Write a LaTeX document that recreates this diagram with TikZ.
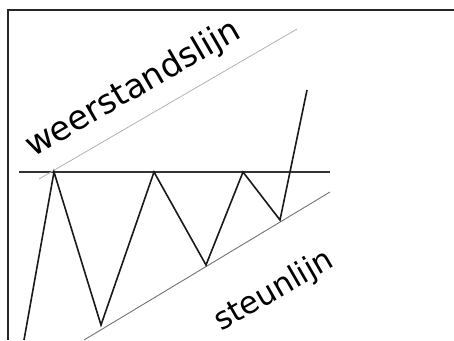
\documentclass[tikz,border=0pt]{standalone}
\usepackage{fontspec}
\setmainfont{DejaVu Sans}
\usetikzlibrary{positioning}

\begin{document}
\begin{tikzpicture}[x=1pt,y=-1pt,
    koers/.style={line width=1.6pt, black!90, line join=miter},
    trendlijn/.style={line width=0.9pt, black!55},
    lijntekst/.style={rotate=30, anchor=base west, inner sep=0pt}]
  \useasboundingbox (0,0) rectangle (454,340);
  % Frame
  \draw[line width=2pt, black!85] (8,340) -- (8,10) -- (454,10);
  % Resistance level
  \coordinate (hl) at (19,172);
  \coordinate (hr) at (330,172);
  \draw[line width=1.5pt, black!80] (hl) -- (hr);
  % Trend lines
  \coordinate (w1) at (39,179);
  \coordinate (w2) at (297,29);
  \draw[trendlijn, black!30, line width=0.8pt] (w1) -- (w2);
  \coordinate (s1) at (84,340);
  \coordinate (s2) at (330,192);
  \draw[trendlijn] (s1) -- (s2);
  % Price zigzag
  \coordinate (p0) at (24,340);
  \coordinate (p1) at (54,172);
  \coordinate (p2) at (101,325);
  \coordinate (p3) at (154,172);
  \coordinate (p4) at (206,265);
  \coordinate (p5) at (243,172);
  \coordinate (p6) at (280,220);
  \coordinate (p7) at (307,90);
  \draw[koers] (p0) -- (p1) -- (p2) -- (p3) -- (p4) -- (p5) -- (p6) -- (p7);
  % Labels
  \node[lijntekst, font=\fontsize{33.5}{34}\selectfont] (weerstand) at (33,158) {weerstandslijn};
  \node[lijntekst, font=\fontsize{31}{32}\selectfont] (steun) at (221,332) {steunlijn};
\end{tikzpicture}
\end{document}
